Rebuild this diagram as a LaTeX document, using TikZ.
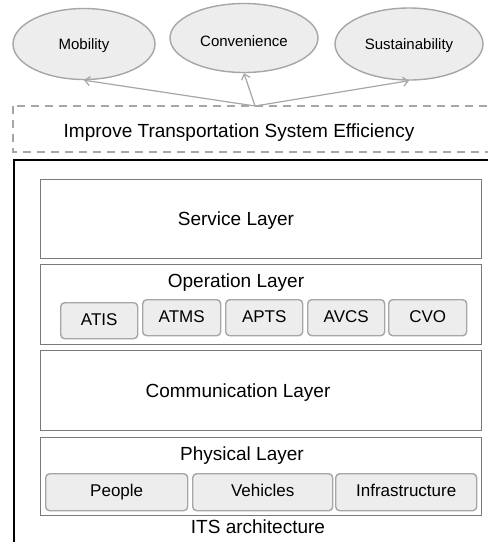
\documentclass[tikz,border=0pt]{standalone}
\usepackage{fontspec}
\setmainfont{Liberation Sans}
\usetikzlibrary{arrows.meta,shapes.geometric}
\definecolor{lineg}{HTML}{A6A6A6}
\definecolor{boxg}{HTML}{7A7A7A}
\definecolor{fillg}{HTML}{EDEDED}
\tikzset{
  goalell/.style={ellipse, draw=lineg, fill=fillg, line width=1.4pt, inner sep=0pt,
    text height=10.7pt, text depth=0pt, font=\fontsize{15}{17}\selectfont},
  goalarrow/.style={draw=lineg, line width=1.2pt, -{Straight Barb[length=5pt,width=9pt]}},
  layerbox/.style={draw=boxg, line width=0.9pt, anchor=north west, inner sep=0pt,
    minimum width=441pt},
  unitbox/.style={draw=lineg, fill=fillg, line width=1.4pt, rounded corners=4pt,
    anchor=north west, inner sep=0pt, text height=12.5pt, text depth=3.5pt,
    font=\fontsize{17}{20}\selectfont},
  bigtext/.style={font=\fontsize{19}{22}\selectfont, inner sep=0pt,
    text height=14pt, text depth=4pt},
}
\begin{document}
\begin{tikzpicture}[x=1pt,y=-1pt]
\useasboundingbox (0,0) rectangle (488,542);
\clip (0,0) rectangle (488,542);

% goals
\node[goalell, minimum width=142pt, minimum height=71pt] (mob) at (84,44) {Mobility};
\node[goalell, minimum width=148pt, minimum height=69pt, text height=16.7pt] (con) at (244,38) {Convenience};
\node[goalell, minimum width=148pt, minimum height=72pt] (sus) at (409,44) {Sustainability};

% overall aim (dashed frame)
\draw[lineg, line width=1.6pt, dash pattern=on 8pt off 6pt] (13,106) rectangle (505,152);
\node[bigtext] (aim) at (239,132) {Improve Transportation System Efficiency};
\coordinate (src) at (255,106);
\draw[goalarrow] (src) -- (mob.south);
\draw[goalarrow] (src) -- (con.south);
\draw[goalarrow] (src) -- (sus.south);

% architecture frame
\draw[black, line width=2.6pt] (505,160) -| (14,560);

% service layer
\node[layerbox, minimum height=79pt] (svc) at (40,179) {};
\node[bigtext] (svct) at (236,220) {Service Layer};

% operation layer
\node[layerbox, minimum height=80pt] (ops) at (40,264) {};
\node[bigtext] (opst) at (236,282) {Operation Layer};
\node[unitbox, minimum width=77pt, minimum height=36pt] (atis) at (60,302) {ATIS};
\node[unitbox, minimum width=78pt, minimum height=36pt] (atms) at (142,299) {ATMS};
\node[unitbox, minimum width=77pt, minimum height=36pt] (apts) at (225,299) {APTS};
\node[unitbox, minimum width=77pt, minimum height=36pt] (avcs) at (307,299) {AVCS};
\node[unitbox, minimum width=78pt, minimum height=36pt] (cvo) at (388,299) {CVO};

% communication layer
\node[layerbox, minimum height=80pt] (com) at (40,350) {};
\node[bigtext] (comt) at (238,392) {Communication Layer};

% physical layer
\node[layerbox, minimum height=78pt] (phy) at (40,437) {};
\node[bigtext] (phyt) at (242,455) {Physical Layer};
\node[unitbox, minimum width=142pt, minimum height=37pt] (ppl) at (45,473) {People};
\node[unitbox, minimum width=140pt, minimum height=37pt] (veh) at (192,473) {Vehicles};
\node[unitbox, minimum width=141pt, minimum height=37pt] (inf) at (335,473) {Infrastructure};

\node[bigtext] (cap) at (258,528) {ITS architecture};
\end{tikzpicture}
\end{document}
